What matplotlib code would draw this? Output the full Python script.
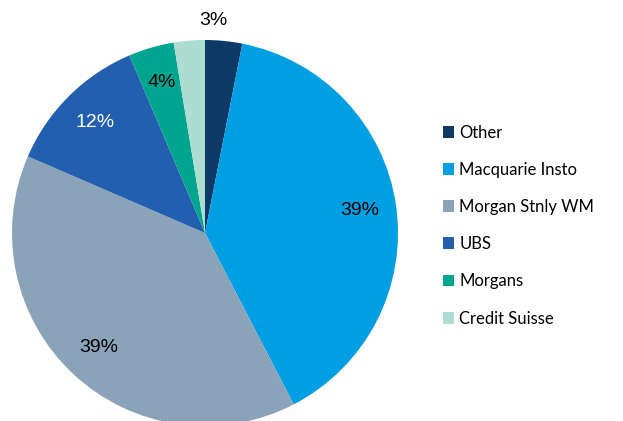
import numpy as np
import matplotlib
matplotlib.use("Agg")
import matplotlib.pyplot as plt
from matplotlib.patches import Patch

brokers = ["Other", "Macquarie Insto", "Morgan Stnly WM", "UBS", "Morgans", "Credit Suisse"]
shares = [3.1, 39.3, 39.1, 12.1, 3.8, 2.6]
pct_labels = ["3%", "39%", "39%", "12%", "4%", ""]
colors = ["#0e3a67", "#009fe3", "#8ba3b8", "#225fae", "#00a58f", "#addcd0"]

fig = plt.figure(figsize=(6.23, 4.21), dpi=100)
ax = fig.add_axes([12 / 623, (421 - 233 - 193) / 421, 386 / 623, 386 / 421])

wedges, _ = ax.pie(shares, colors=colors, startangle=90, counterclock=False,
                   radius=1.0, wedgeprops=dict(linewidth=0))
ax.set_xlim(-1, 1)
ax.set_ylim(-1, 1)
ax.set_aspect("equal")

for i, (w, lab) in enumerate(zip(wedges, pct_labels)):
    if not lab:
        continue
    if i == 0:
        # small first slice: label sits outside, near the top
        ang = np.deg2rad(w.theta2 - 0.2 * (w.theta2 - w.theta1))
        dist = 1.1
    else:
        ang = np.deg2rad((w.theta1 + w.theta2) / 2)
        dist = 0.81
    x, y = dist * np.cos(ang), dist * np.sin(ang)
    ax.text(x, y, lab, ha="center", va="center", fontsize=14,
            family="Liberation Sans", color="white" if lab == "12%" else "black")

handles = [Patch(facecolor=c, edgecolor="none") for c in colors]
leg = fig.legend(handles, brokers, loc="upper left", bbox_to_anchor=(436 / 623, 1 - 118 / 421),
                 frameon=False, prop={"family": "Lato", "size": 12},
                 handlelength=0.7, handleheight=0.7, handletextpad=0.3,
                 labelspacing=1.27, borderaxespad=0)

fig.savefig("out.png", dpi=100)
